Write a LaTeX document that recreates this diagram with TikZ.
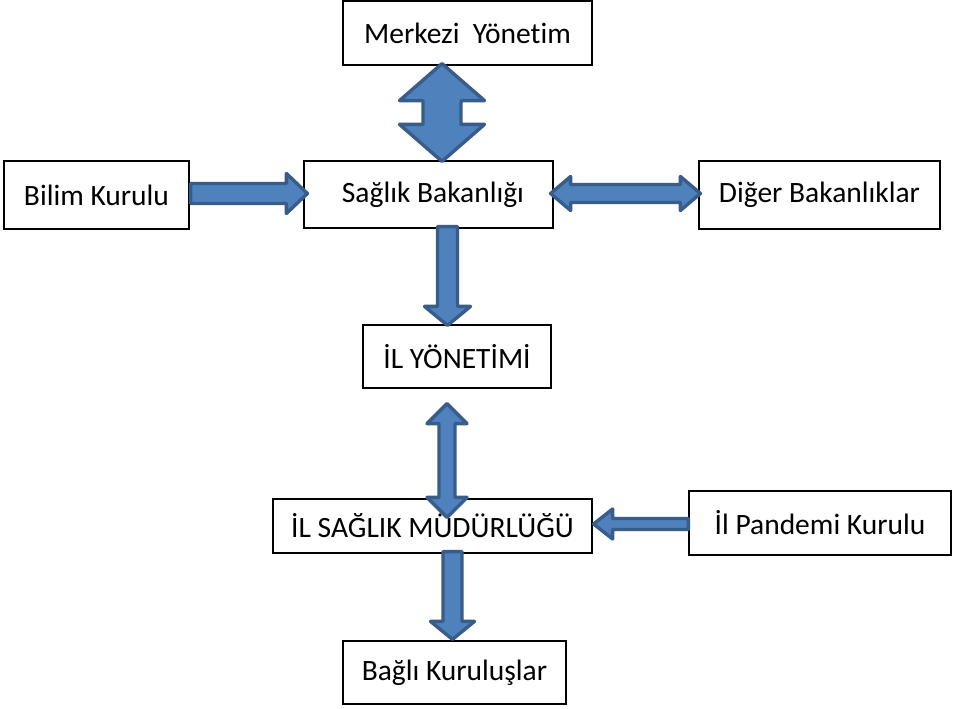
\documentclass[tikz,border=0pt]{standalone}
\usepackage{fontspec}
\setmainfont[Ligatures=NoCommon]{Carlito}
\usetikzlibrary{calc}
\definecolor{arrfill}{HTML}{4F81BD}
\definecolor{arrline}{HTML}{385D8A}
\tikzset{
  box/.style={draw=black, line width=1.2pt, fill=white, inner sep=0pt, font=\fontsize{29.5}{34}\selectfont},
  blockarr/.style={fill=arrfill, draw=arrline, line width=3.4pt, line join=round}
}
% vertical double arrow: #1 top tip, #2 bottom tip, #3 half shaft, #4 half head, #5 head length
\newcommand\VDouble[5]{\draw[blockarr] let \p1=(#1), \p2=(#2) in
 (\x1,\y1) -- (\x1+#4,\y1-#5) -- (\x1+#3,\y1-#5) -- (\x1+#3,\y2+#5) -- (\x1+#4,\y2+#5) -- (\x1,\y2)
 -- (\x1-#4,\y2+#5) -- (\x1-#3,\y2+#5) -- (\x1-#3,\y1-#5) -- (\x1-#4,\y1-#5) -- cycle;}
% downward arrow: #1 start (top), #2 tip (bottom)
\newcommand\VDown[5]{\draw[blockarr] let \p1=(#1), \p2=(#2) in
 (\x1-#3,\y1) -- (\x1+#3,\y1) -- (\x1+#3,\y2+#5) -- (\x1+#4,\y2+#5) -- (\x1,\y2)
 -- (\x1-#4,\y2+#5) -- (\x1-#3,\y2+#5) -- cycle;}
% horizontal double arrow: #1 left tip, #2 right tip
\newcommand\HDouble[5]{\draw[blockarr] let \p1=(#1), \p2=(#2) in
 (\x1,\y1) -- (\x1+#5,\y1+#4) -- (\x1+#5,\y1+#3) -- (\x2-#5,\y1+#3) -- (\x2-#5,\y1+#4) -- (\x2,\y1)
 -- (\x2-#5,\y1-#4) -- (\x2-#5,\y1-#3) -- (\x1+#5,\y1-#3) -- (\x1+#5,\y1-#4) -- cycle;}
% rightward arrow: #1 start (left), #2 tip (right)
\newcommand\HRight[5]{\draw[blockarr] let \p1=(#1), \p2=(#2) in
 (\x1,\y1+#3) -- (\x2-#5,\y1+#3) -- (\x2-#5,\y1+#4) -- (\x2,\y1) -- (\x2-#5,\y1-#4) -- (\x2-#5,\y1-#3) -- (\x1,\y1-#3) -- cycle;}
% leftward arrow: #1 start (right), #2 tip (left)
\newcommand\HLeft[5]{\draw[blockarr] let \p1=(#1), \p2=(#2) in
 (\x1,\y1+#3) -- (\x2+#5,\y1+#3) -- (\x2+#5,\y1+#4) -- (\x2,\y1) -- (\x2+#5,\y1-#4) -- (\x2+#5,\y1-#3) -- (\x1,\y1-#3) -- cycle;}
\begin{document}
\begin{tikzpicture}[x=1pt,y=-1pt]
\useasboundingbox[fill=white] (0,0) rectangle (964,709);

\node[box, minimum width=249pt, minimum height=64pt] (mer) at (467.5,33) {Merkezi~~Yönetim};
\node[box, minimum width=249pt, minimum height=67pt] (sb) at (428.5,194.5) {\hspace{9pt}Sağlık Bakanlığı};
\node[box, minimum width=185pt, minimum height=68pt] (bk) at (96.5,195) {Bilim Kurulu};
\node[box, minimum width=241pt, minimum height=68pt] (db) at (819.5,195) {Diğer Bakanlıklar};
\node[box, minimum width=188pt, minimum height=63pt] (ily) at (457,356.5) {İL YÖNETİMİ};
\node[box, minimum width=319pt, minimum height=54pt] (ism) at (432.5,526) {İL SAĞLIK MÜDÜRLÜĞÜ};
\node[box, minimum width=262pt, minimum height=64pt] (ipk) at (820,523) {İl Pandemi Kurulu};
\node[box, minimum width=223pt, minimum height=63pt] (bag) at (454.5,672.5) {Bağlı Kuruluşlar};

% Merkezi Yonetim <-> Saglik Bakanligi
\VDouble{$(mer.south)+(-25.5,-2)$}{$(sb.north)+(13.5,1)$}{19pt}{42.5pt}{37pt}
% Bilim Kurulu -> Saglik Bakanligi
\HRight{$(bk.east)+(1,-1.5)$}{$(sb.west)+(4,-1)$}{10pt}{20pt}{21pt}
% Saglik Bakanligi <-> Diger Bakanliklar
\HDouble{$(sb.east)+(-3,-1)$}{$(db.west)+(2,-1.5)$}{9pt}{17pt}{20pt}
% Saglik Bakanligi -> IL YONETIMI
\VDown{$(sb.south)+(19,-2)$}{$(ily.north)+(-9.5,1)$}{10pt}{23pt}{19pt}
% IL YONETIMI <-> IL SAGLIK MUDURLUGU
\VDouble{$(ily.south)+(-10,15)$}{$(ism.north)+(14.5,19)$}{8pt}{20pt}{20pt}
% Il Pandemi Kurulu -> IL SAGLIK MUDURLUGU
\HLeft{$(ipk.west)+(0,1)$}{$(ism.east)+(1,-2)$}{5.5pt}{15pt}{19pt}
% IL SAGLIK MUDURLUGU -> Bagli Kuruluslar
\VDown{$(ism.south)+(20,-2)$}{$(bag.north)+(-2,-1)$}{9.5pt}{22pt}{18pt}
\end{tikzpicture}
\end{document}
